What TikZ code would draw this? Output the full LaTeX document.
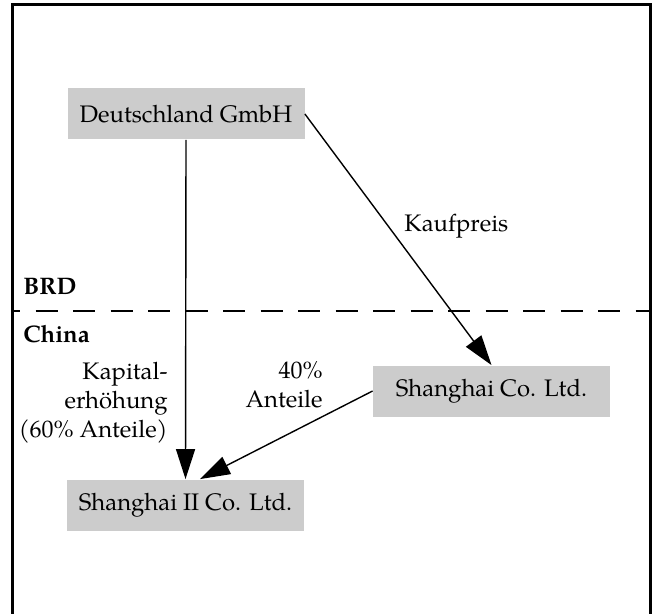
\documentclass[tikz,border=0pt]{standalone}
\usepackage{fontspec}
\setmainfont{TeX Gyre Pagella}
\usetikzlibrary{arrows.meta}
\begin{document}
\begin{tikzpicture}[x=0.5pt,y=-0.5pt,
  every node/.style={font=\fontsize{11.95}{14.5}\selectfont},
  box/.style={fill=black!20,minimum width=118.5pt,minimum height=25.5pt,inner sep=0pt},
  lbl/.style={inner sep=0pt,align=right},
  arr/.style={line width=0.7pt,-{Triangle[length=15pt,width=9.5pt]}},
  frame/.style={line width=1.5pt}]
\useasboundingbox (0,0) rectangle (652,614);
% frame (open at the bottom)
\draw[frame] (12,614) -- (12,5) -- (650.5,5) -- (650.5,614);
% border between BRD and China
\draw[line width=0.9pt,dash pattern=on 11pt off 7.75pt,dash phase=7pt] (12,311) -- (650,311);
\node[inner sep=0pt,anchor=base west,font=\fontsize{11.95}{14.5}\selectfont\bfseries] (brd) at (23,295) {BRD};
\node[inner sep=0pt,anchor=base west,font=\fontsize{11.95}{14.5}\selectfont\bfseries] (china) at (23,343) {China};
% entities
\node[box] (d) at (186,114) {Deutschland GmbH};
\node[box] (s1) at (491.5,391) {Shanghai Co. Ltd.};
\node[box] (s2) at (185.5,505) {Shanghai II Co. Ltd.};
% connectors
\draw[arr] (d.south) -- (s2.north);
\draw[arr] (d.east) -- (s1.north);
\draw[arr] (s1.west) -- ([xshift=7.25pt]s2.north);
% labels
\node[inner sep=0pt,anchor=base west] (kauf) at (404,232) {Kaufpreis};
\node[lbl,anchor=east] (kap) at (168,403) {Kapital-\\erhöhung\\(60\% Anteile)};
\node[lbl,anchor=east] (ant) at (323,385) {40\%\\Anteile};
\end{tikzpicture}
\end{document}
